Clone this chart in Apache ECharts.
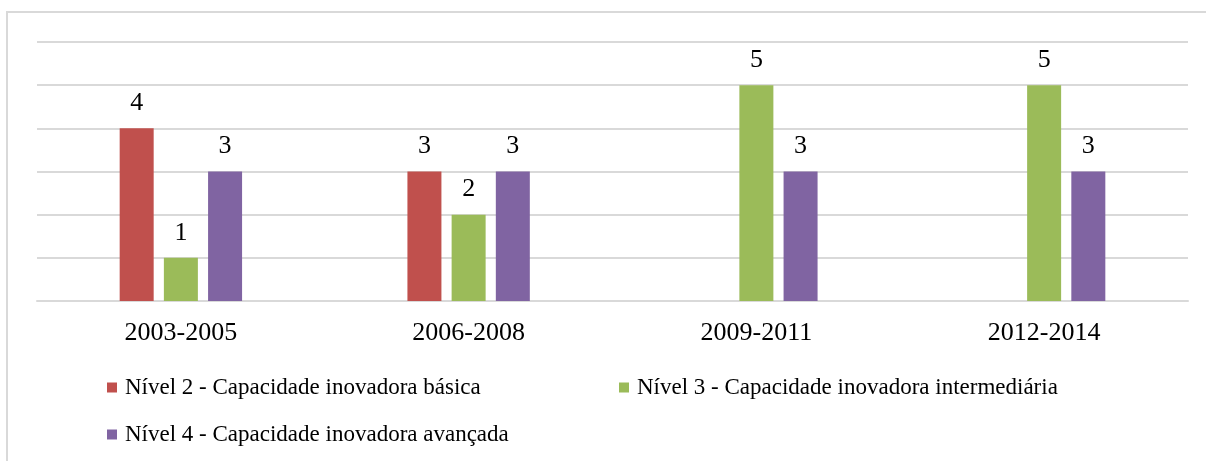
<!DOCTYPE html>
<html>
<head>
<meta charset="utf-8">
<script src="https://cdn.jsdelivr.net/npm/echarts@6/dist/echarts.min.js"></script>
<style>
  html, body { margin: 0; padding: 0; background: #fff; }
  #chart { width: 1206px; height: 461px; }
</style>
</head>
<body>
<div id="chart"></div>
<script>
// periodos e valores
var periodos = ['2003-2005', '2006-2008', '2009-2011', '2012-2014'];
var nivel2 = [4, 3, null, null];
var nivel3 = [1, 2, 5, 5];
var nivel4 = [3, 3, 3, 3];
var nomes = [
  'Nível 2 - Capacidade inovadora básica',
  'Nível 3 - Capacidade inovadora intermediária',
  'Nível 4 - Capacidade inovadora avançada'
];
var cores = ['#C0504D', '#9BBB59', '#8064A2'];

var fonte = 'Liberation Serif, Times New Roman, serif';

var chart = echarts.init(document.getElementById('chart'));

function serie(nome, dados, cor) {
  return {
    name: nome,
    type: 'bar',
    data: dados,
    barWidth: 34,
    barGap: '30%',
    itemStyle: { color: cor },
    label: {
      show: true,
      position: 'top',
      distance: 12,
      fontFamily: fonte,
      fontSize: 26,
      color: '#000'
    }
  };
}

function legenda(nome, left, top) {
  return {
    data: [nome],
    left: left,
    top: top,
    icon: 'rect',
    itemWidth: 10,
    itemHeight: 10,
    itemGap: 0,
    padding: 0,
    textStyle: { fontFamily: fonte, fontSize: 23, color: '#000', padding: [0, 0, 0, 3] }
  };
}

var option = {
  animation: false,
  color: cores,
  graphic: [{
    type: 'rect',
    shape: { x: 7, y: 12, width: 1220, height: 470 },
    style: { fill: 'none', stroke: '#d9d9d9', lineWidth: 2 },
    silent: true
  }],
  legend: [
    legenda(nomes[0], 107, 376),
    legenda(nomes[1], 619, 376),
    legenda(nomes[2], 107, 423)
  ],
  grid: { left: 37, right: 18, top: 42, bottom: 160 },
  xAxis: {
    type: 'category',
    data: periodos,
    axisTick: { show: false },
    axisLine: { lineStyle: { color: '#d9d9d9', width: 2 } },
    axisLabel: { fontFamily: fonte, fontSize: 26, color: '#000', margin: 19 }
  },
  yAxis: {
    type: 'value',
    min: 0,
    max: 6,
    interval: 1,
    axisLabel: { show: false },
    axisLine: { show: false },
    axisTick: { show: false },
    splitLine: { lineStyle: { color: '#d9d9d9', width: 2 } }
  },
  series: [
    serie(nomes[0], nivel2, cores[0]),
    serie(nomes[1], nivel3, cores[1]),
    serie(nomes[2], nivel4, cores[2])
  ]
};

chart.setOption(option);
</script>
</body>
</html>
